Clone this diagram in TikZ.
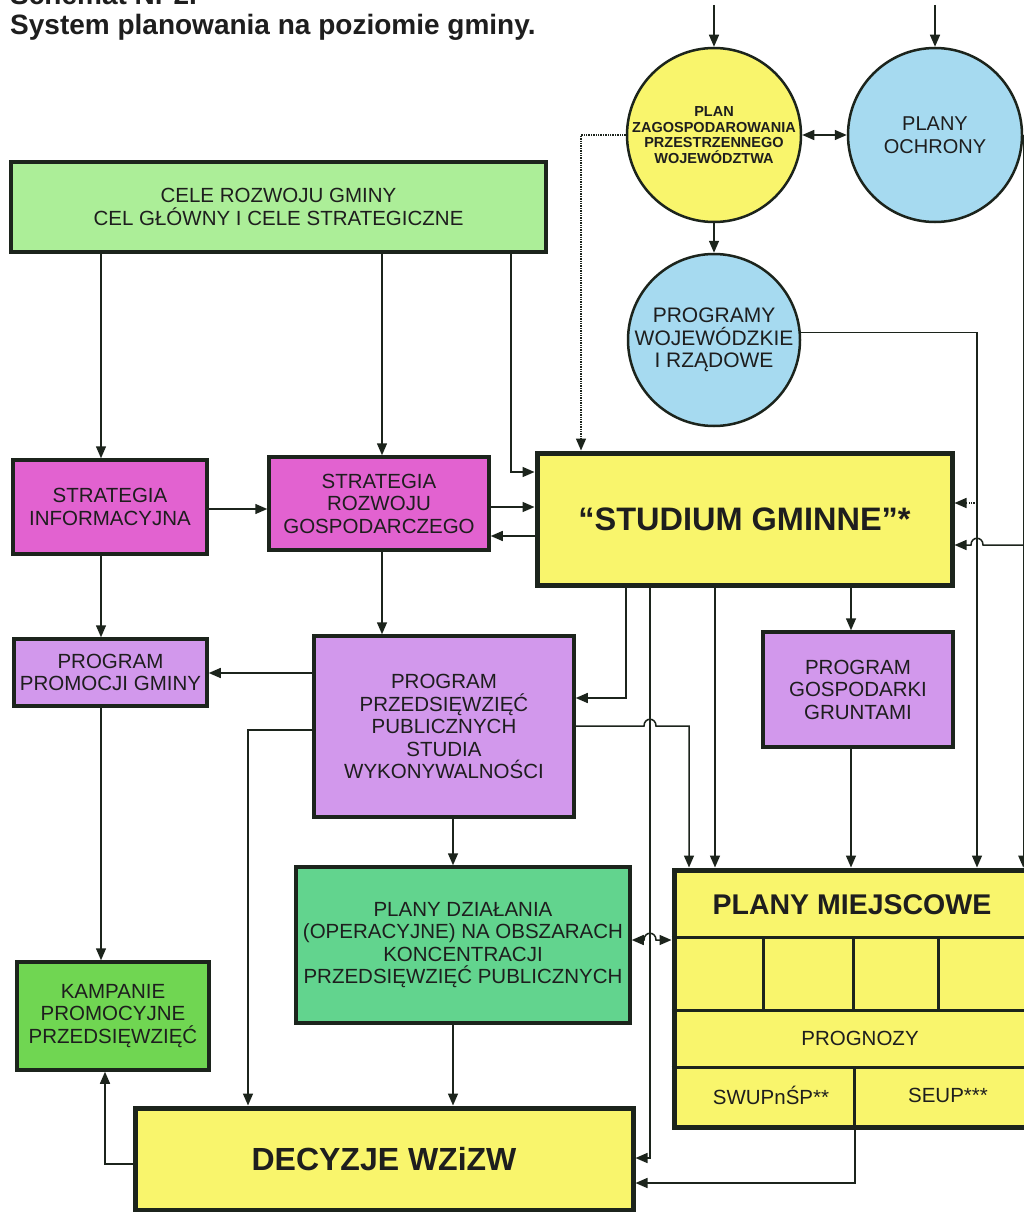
\documentclass[tikz,border=0pt]{standalone}
\usepackage{fontspec}
\setmainfont{Liberation Sans}
\usetikzlibrary{arrows.meta}
\definecolor{edge}{RGB}{28,36,28}
\definecolor{txt}{RGB}{30,30,30}
\definecolor{yelF}{RGB}{249,245,108}
\definecolor{bluF}{RGB}{166,218,240}
\definecolor{celF}{RGB}{172,238,152}
\definecolor{magF}{RGB}{226,98,208}
\definecolor{lilF}{RGB}{210,152,236}
\definecolor{mintF}{RGB}{98,212,142}
\definecolor{kampF}{RGB}{112,214,82}
\newcommand{\myfs}[2]{\fontsize{#1}{#2}\selectfont}
\begin{document}
\begin{tikzpicture}[x=1pt,y=-1pt,
  box/.style={draw=edge, line width=3.5pt, rectangle, align=center, inner sep=0pt, text=txt, font=\myfs{20.5}{22.5}},
  bigbox/.style={box, line width=5pt},
  circ/.style={draw=edge, line width=2.5pt, circle, minimum size=174pt, inner sep=0pt, align=center, text=txt, font=\myfs{20.5}{22.5}},
  conn/.style={draw=edge, line width=1.5pt},
  arr/.style={conn, -{Triangle[length=12pt,width=10pt]}},
  arrs/.style={conn, {Triangle[length=12pt,width=10pt]}-{Triangle[length=12pt,width=10pt]}},
  dotln/.style={dash pattern=on 1.3pt off 1.1pt},
  divl/.style={draw=edge, line width=3pt},
  plain/.style={text=txt, inner sep=0pt, align=center, font=\myfs{20.5}{22.5}}
]
\useasboundingbox (0,0) rectangle (1024,1212);
\fill[white] (0,0) rectangle (1024,1212);

% title
\node[plain, anchor=base west, font=\bfseries\myfs{28}{30}] (title0) at (10,5) {Schemat Nr 2.};
\node[plain, anchor=base west, font=\bfseries\myfs{28}{30}] (title) at (10,35) {System planowania na poziomie gminy.};

% circles
\node[circ, fill=yelF, font=\bfseries\myfs{14.5}{15.5}] (pzpw) at (714,135) {PLAN\\ZAGOSPODAROWANIA\\PRZESTRZENNEGO\\WOJEWÓDZTWA};
\node[circ, fill=bluF, font=\myfs{20}{22.5}] (po) at (935,135) {PLANY\\OCHRONY};
\node[circ, fill=bluF, minimum size=172pt, font=\myfs{21}{22.5}] (pw) at (714,340) {PROGRAMY\\WOJEWÓDZKIE\\I RZĄDOWE};

% boxes
\node[box, fill=celF, minimum width=535pt, minimum height=90pt] (cele) at (278.5,207) {CELE ROZWOJU GMINY\\CEL GŁÓWNY I CELE STRATEGICZNE};
\node[box, fill=magF, minimum width=194pt, minimum height=94pt] (si) at (110,507) {STRATEGIA\\INFORMACYJNA};
\node[box, fill=magF, minimum width=220pt, minimum height=93pt] (srg) at (379,503.5) {STRATEGIA\\ROZWOJU\\GOSPODARCZEGO};
\node[bigbox, fill=yelF, minimum width=415pt, minimum height=132pt, font=\bfseries\myfs{32.5}{36}] (studium) at (744.5,519) {“STUDIUM GMINNE”*};
\node[box, fill=lilF, minimum width=193pt, minimum height=67pt] (ppg) at (110.5,672.5) {PROGRAM\\PROMOCJI GMINY};
\node[box, fill=lilF, minimum width=260pt, minimum height=181pt] (ppp) at (444,726.5) {PROGRAM\\PRZEDSIĘWZIĘĆ\\PUBLICZNYCH\\STUDIA\\WYKONYWALNOŚCI};
\node[box, fill=lilF, minimum width=190pt, minimum height=115pt] (pgg) at (858,689.5) {PROGRAM\\GOSPODARKI\\GRUNTAMI};
\node[box, fill=mintF, minimum width=334pt, minimum height=156pt] (pd) at (463,945) {PLANY DZIAŁANIA\\(OPERACYJNE) NA OBSZARACH\\KONCENTRACJI\\PRZEDSIĘWZIĘĆ PUBLICZNYCH};
\node[box, fill=kampF, minimum width=192pt, minimum height=108pt] (kamp) at (113,1016) {KAMPANIE\\PROMOCYJNE\\PRZEDSIĘWZIĘĆ};
\node[bigbox, fill=yelF, minimum width=498pt, minimum height=102pt, font=\bfseries\myfs{32}{36}] (dec) at (384,1159) {DECYZJE WZiZW};
\node[bigbox, fill=yelF, minimum width=366pt, minimum height=257pt] (pm) at (857,998.5) {};

% plany miejscowe interior
\coordinate (r1) at (0,937);
\coordinate (r2) at (0,1010);
\coordinate (r3) at (0,1067);
\draw[divl] (pm.west |- r1) -- (pm.east |- r1);
\draw[divl] (pm.west |- r2) -- (pm.east |- r2);
\draw[divl] (pm.west |- r3) -- (pm.east |- r3);
\coordinate (c1) at (763,0);
\coordinate (c2) at (853,0);
\coordinate (c3) at (938,0);
\coordinate (c4) at (854,0);
\draw[divl] (c1 |- r1) -- (c1 |- r2);
\draw[divl] (c2 |- r1) -- (c2 |- r2);
\draw[divl] (c3 |- r1) -- (c3 |- r2);
\draw[divl] (c4 |- r3) -- (c4 |- pm.south);
\node[plain, font=\bfseries\myfs{28.5}{30}] (pmt) at (852,905) {PLANY MIEJSCOWE};
\node[plain] (prog) at (860,1038) {PROGNOZY};
\node[plain, font=\myfs{20.5}{22}] (swup) at (771,1095) {SWUPnŚP**};
\node[plain, font=\myfs{20.5}{22}] (seup) at (948,1095) {SEUP***};

% helper coordinates
\coordinate (topA) at (714,5);
\coordinate (topB) at (935,5);
\coordinate (xA) at (101,0);
\coordinate (xB) at (382,0);
\coordinate (xC) at (511,0);
\coordinate (yC) at (0,472);
\coordinate (ySI) at (0,509);
\coordinate (yS1) at (0,507);
\coordinate (yS2) at (0,536);
\coordinate (yPPG) at (0,673);
\coordinate (yPPPL) at (0,730);
\coordinate (xL) at (248,0);
\coordinate (xK) at (105,0);
\coordinate (yDL) at (0,1164);
\coordinate (xPD) at (453,0);
\coordinate (xV1) at (626,0);
\coordinate (yV1) at (0,698);
\coordinate (xV2) at (650,0);
\coordinate (xV3) at (715,0);
\coordinate (xV4) at (851,0);
\coordinate (yP) at (0,726);
\coordinate (xP) at (689,0);
\coordinate (yE) at (0,940);
\coordinate (yD1) at (0,1158);
\coordinate (yD2) at (0,1183);
\coordinate (xPMb) at (855,0);
\coordinate (xR) at (977,0);
\coordinate (yDot) at (0,503);
\coordinate (yH) at (0,545);
\coordinate (xDot) at (581,0);
\coordinate (hA) at (xR |- yH);
\coordinate (hB) at (xV2 |- yP);
\coordinate (hC) at (xV2 |- yE);

% connectors: top
\draw[arr] (topA) -- (pzpw.north);
\draw[arr] (topB) -- (po.north);
\draw[arrs] (pzpw.east) -- (po.west);
\draw[arr] (pzpw.south) -- (pw.north);
\draw[arr] (pw.5) -| (pm.north -| xR);
\draw[arr, dotln] (pzpw.west) -| (studium.north -| xDot);
\draw[arr, dotln] (xR |- yDot) -- (studium.east |- yDot);
\draw[arr] (po.east) -- (po.east |- pm.north);
\draw[arr] (po.east |- yH) -- ([xshift=6pt]hA) .. controls ([xshift=6pt,yshift=9pt]hA) and ([xshift=-6pt,yshift=9pt]hA) .. ([xshift=-6pt]hA) -- (studium.east |- yH);

% left part
\draw[arr] (cele.south -| xA) -- (si.north -| xA);
\draw[arr] (cele.south -| xB) -- (srg.north -| xB);
\draw[arr] (cele.south -| xC) |- (studium.west |- yC);
\draw[arr] (si.east |- ySI) -- (srg.west |- ySI);
\draw[arr] (srg.east |- yS1) -- (studium.west |- yS1);
\draw[arr] (studium.west |- yS2) -- (srg.east |- yS2);
\draw[arr] (si.south -| xA) -- (ppg.north -| xA);
\draw[arr] (srg.south -| xB) -- (ppp.north -| xB);
\draw[arr] (ppp.west |- yPPG) -- (ppg.east |- yPPG);
\draw[arr] (ppp.west |- yPPPL) -| (dec.north -| xL);
\draw[arr] (ppg.south -| xA) -- (kamp.north -| xA);
\draw[arr] (dec.west |- yDL) -| (kamp.south -| xK);
\draw[arr] (ppp.south -| xPD) -- (pd.north -| xPD);
\draw[arr] (pd.south -| xPD) -- (dec.north -| xPD);

% from studium
\draw[arr] (studium.south -| xV1) |- (ppp.east |- yV1);
\draw[arr] (studium.south -| xV2) |- (dec.east |- yD1);
\draw[arr] (studium.south -| xV3) -- (pm.north -| xV3);
\draw[arr] (studium.south -| xV4) -- (pgg.north -| xV4);
\draw[arr] (pgg.south -| xV4) -- (pm.north -| xV4);
\draw[arr] (pm.south -| xPMb) |- (dec.east |- yD2);
\draw[arr] (ppp.east |- yP) -- ([xshift=-6pt]hB) .. controls ([xshift=-6pt,yshift=9pt]hB) and ([xshift=6pt,yshift=9pt]hB) .. ([xshift=6pt]hB) -| (pm.north -| xP);
\draw[arrs] (pd.east |- yE) -- ([xshift=-6pt]hC) .. controls ([xshift=-6pt,yshift=9pt]hC) and ([xshift=6pt,yshift=9pt]hC) .. ([xshift=6pt]hC) -- (pm.west |- yE);
\end{tikzpicture}
\end{document}
